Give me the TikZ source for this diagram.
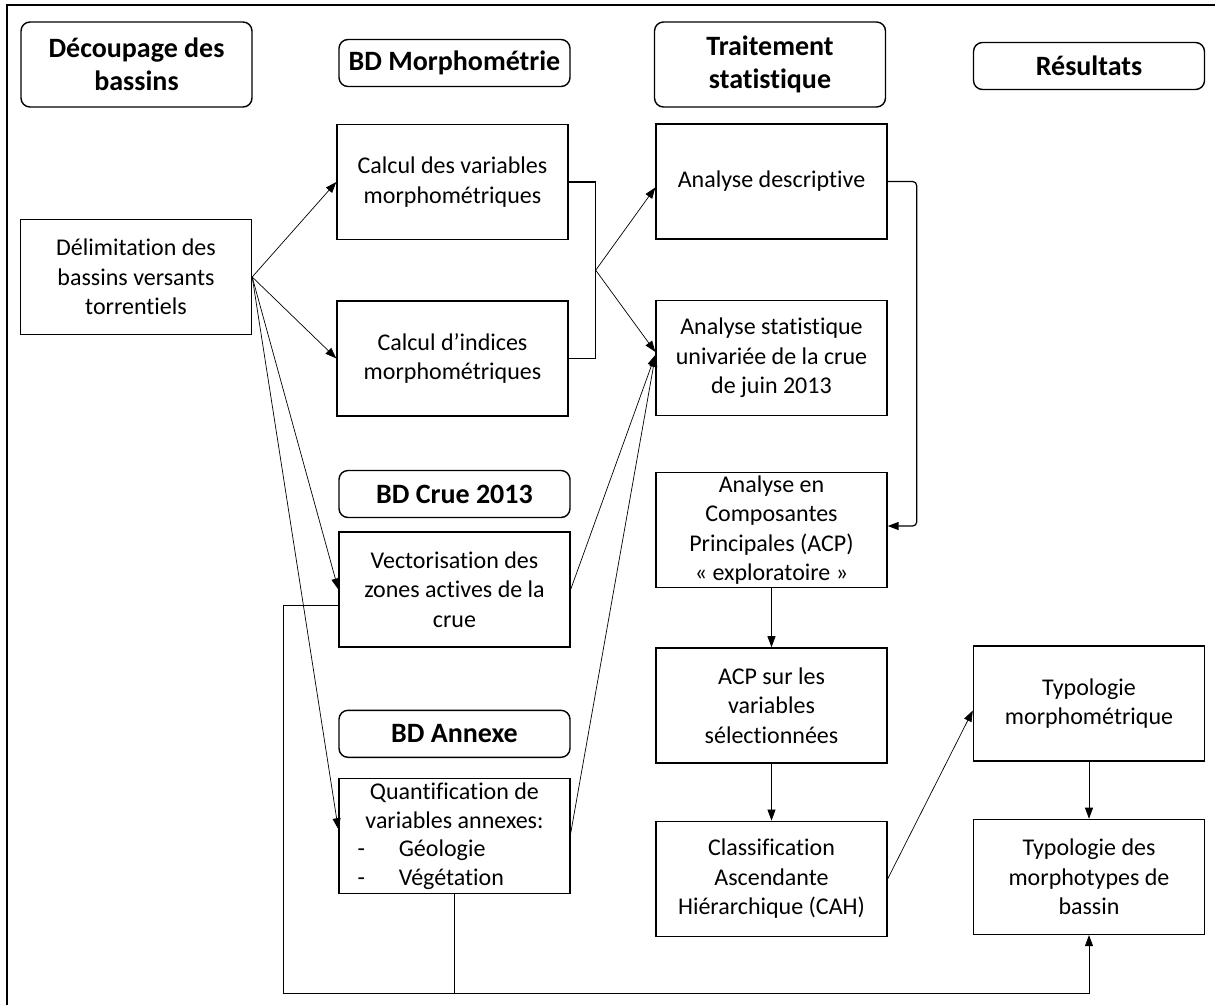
\documentclass[tikz,border=0pt]{standalone}
\usepackage{fontspec}
\setmainfont{Carlito}[Ligatures=NoCommon]
\usepackage{tikz}
\usetikzlibrary{arrows.meta,positioning,calc}
\tikzset{
  box/.style={rectangle, draw, line width=1.4pt, minimum width=231pt, minimum height=115pt, align=center, inner sep=2pt, font=\fontsize{24}{29.5}\selectfont},
  headbox/.style={box, rounded corners=9pt, minimum height=47pt, font=\fontsize{28}{33}\selectfont\bfseries},
  arrow/.style={-{Triangle[length=11pt, width=8pt]}, line width=0.7pt},
  link/.style={line width=0.7pt},
}
\newcommand{\puce}[1]{\makebox[210pt][l]{\hspace{8pt}-\hspace{34pt}#1}}

\begin{document}
\begin{tikzpicture}[x=1pt, y=-1pt]
  \useasboundingbox (0,0) rectangle (1215,1005);
  \draw[line width=1.6pt] (7,1005) -- (7,5) -- (1215,5);

  % Column headers
  \node[headbox, minimum height=85pt] (decoupage) at (136.5,64.5) {Découpage des\\bassins};
  \node[headbox] (bdmorpho) at (454.5,63) {BD Morphométrie};
  \node[headbox, minimum height=85pt] (traitement) at (770,64.5) {Traitement\\statistique};
  \node[headbox] (resultats) at (1089,66) {Résultats};

  % Column 1
  \node[box] (delim) at (136,277) {Délimitation des\\bassins versants\\torrentiels};

  % Column 2
  \node[box] (calcvar) at (452.5,182) {Calcul des variables\\morphométriques};
  \node[box, below=60pt of calcvar] (calcind) {Calcul d’indices\\morphométriques};
  \node[headbox] (bdcrue) at (454.5,494) {BD Crue 2013};
  \node[box, below=13pt of bdcrue] (vecto) {Vectorisation des\\zones actives de la\\crue};
  \node[headbox, below=62pt of vecto] (bdannexe) {BD Annexe};
  \node[box, below=20pt of bdannexe, font=\fontsize{24}{28.5}\selectfont] (quanti) {Quantification de\\variables annexes:\\\puce{Géologie}\\\puce{Végétation}};

  % Column 3
  \node[box] (anadesc) at (771.5,181.5) {Analyse descriptive};
  \node[box, below=60pt of anadesc] (anauni) {Analyse statistique\\univariée de la crue\\de juin 2013};
  \node[box] (acpexp) at (771.5,530) {Analyse en\\Composantes\\Principales (ACP)\\« exploratoire »};
  \node[box, below=59pt of acpexp] (acpsel) {ACP sur les\\variables\\sélectionnées};
  \node[box, below=57pt of acpsel] (cah) {Classification\\Ascendante\\Hiérarchique (CAH)};

  % Column 4
  \node[box] (typomorph) at (1089,703.5) {Typologie\\morphométrique};
  \node[box, below=57pt of typomorph] (typobassin) {Typologie des\\morphotypes de\\bassin};

  % From the delimitation
  \draw[arrow] (delim.east) -- (calcvar.west);
  \draw[arrow] (delim.east) -- (calcind.west);
  \draw[arrow] (delim.east) -- (vecto.west);
  \draw[arrow] (delim.east) -- ($(quanti.west)+(0,-7)$);

  % Morphometry bracket
  \draw[line width=1.2pt] (calcvar.east) -- ++(27,0) |- (calcind.east);
  \coordinate (fourche) at ($(calcvar.east)!0.5!(calcind.east)+(27,0)$);
  \draw[arrow] (fourche) -- ($(anadesc.west)+(0,6)$);
  \draw[arrow] (fourche) -- ($(anauni.west)+(0,-6)$);
  \draw[arrow] (vecto.east) -- ($(anauni.west)+(0,-3)$);
  \draw[arrow] ($(quanti.east)+(0,-3)$) -- ($(anauni.west)+(0,-2)$);

  % Statistics chain
  \draw[arrow, line width=1.2pt, rounded corners=4pt] (anadesc.east) -- ++(29,0) |- ($(acpexp.east)+(0,-4)$);
  \draw[arrow] (acpexp) -- (acpsel);
  \draw[arrow] (acpsel) -- (cah);
  \draw[arrow] (cah.east) -- ($(typomorph.west)+(0,7)$);
  \draw[arrow] (typomorph) -- (typobassin);

  % Loop at the bottom
  \coordinate (retour) at (283,993);
  \draw[arrow] ($(vecto.west)+(0,16)$) -| (retour) -| (typobassin.south);
  \draw[link] (quanti.south) -- (quanti.south |- retour);
\end{tikzpicture}
\end{document}
